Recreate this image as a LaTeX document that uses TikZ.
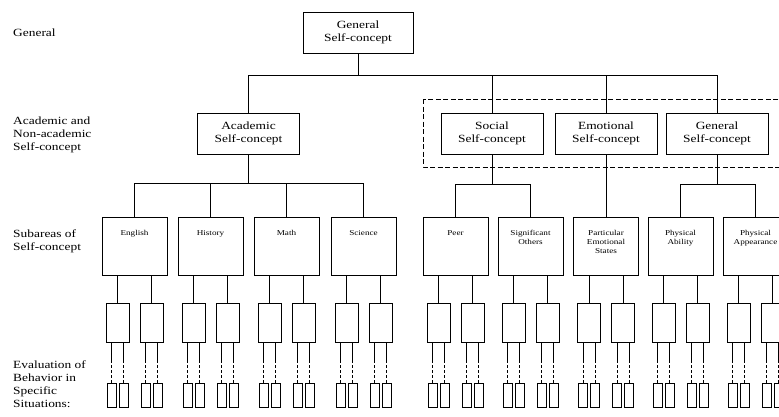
\documentclass[tikz,border=0pt]{standalone}
\usepackage{fontspec}
\setmainfont{Liberation Serif}[FakeStretch=1.22]
\usepackage{tikz}

\tikzset{
  box/.style={draw, line width=1pt, rectangle, inner sep=0pt},
  topbox/.style={box, minimum width=110pt, minimum height=41pt, align=center,
    font=\fontsize{11}{13}\selectfont},
  subbox/.style={box, minimum width=65pt, minimum height=58pt},
  subtxt/.style={anchor=north, yshift=-14pt, inner sep=0pt, align=center,
    font=\fontsize{7.5}{9}\selectfont},
  midbox/.style={box, minimum width=23pt, minimum height=39pt},
  tinybox/.style={box, minimum width=9pt, minimum height=24pt},
  lvl/.style={anchor=west, align=left, inner sep=0pt,
    font=\fontsize{11}{13}\selectfont},
  conn/.style={line width=1pt}
}

\begin{document}
\begin{tikzpicture}[x=1pt,y=-1pt]
\useasboundingbox (0,0) rectangle (779,416);

% level names on the left
\node[lvl] (l1) at (13,33) {General};
\node[lvl] (l2) at (13,135) {Academic and\\Non-academic\\Self-concept};
\node[lvl] (l3) at (13,241) {Subareas of\\Self-concept};
\node[lvl] (l4) at (13,384) {Evaluation of\\Behavior in\\Specific\\Situations:};

% general and second level
\node[topbox] (gen) at (358,32.5) {General\\Self-concept};
\node[topbox, minimum width=102pt] (aca) at (248.5,133.5) {Academic\\Self-concept};
\node[topbox, minimum width=102pt] (soc) at (492,133.5) {Social\\Self-concept};
\node[topbox, minimum width=102pt] (emo) at (606,133.5) {Emotional\\Self-concept};
\node[topbox, minimum width=102pt] (gsc) at (717,133.5) {General\\Self-concept};

% non-academic group
\draw[dash pattern=on 5pt off 2.5pt, line width=0.9pt] (423,99) rectangle (795,167);

\foreach \t in {aca,soc,emo,gsc}
  \draw[conn] (gen.south) -- ++(0,22) -| (\t.north);

% subareas
\foreach \n/\x/\txt in {eng/134.5/English, his/210.5/History, mat/286.5/Math,
    sci/363.5/Science, peer/455.5/Peer, sig/530.5/{Significant\\Others},
    pes/606/{Particular\\Emotional\\States}, pab/680.5/{Physical\\Ability},
    pap/755.5/{Physical\\Appearance}} {
  \node[subbox, label={[subtxt]north:\txt}] (\n) at (\x,246) {};
  \foreach \d/\s in {a/-17, b/17} {
    \node[midbox] (\n\d) at (\x+\s,322.5) {};
    \draw[conn] (\n\d.north) -- (\n\d.north |- \n.south);
    \foreach \e/\u in {1/-6, 2/6} {
      \node[tinybox] (\n\d\e) at (\x+\s+\u,395) {};
      \draw[conn, densely dashed] (\n\d\e.north) -- ++(0,-23) coordinate (\n\d\e m);
      \draw[conn] (\n\d\e m) -- (\n\d\e m |- \n\d.south);
    }
  }
}

\foreach \t in {eng,his,mat,sci}
  \draw[conn] (aca.south) -- ++(0,29) -| (\t.north);
\foreach \t in {peer,sig}
  \draw[conn] (soc.south) -- ++(0,30) -| (\t.north);
\draw[conn] (emo.south) -- (pes.north);
\foreach \t in {pab,pap}
  \draw[conn] (gsc.south) -- ++(0,30) -| (\t.north);
\end{tikzpicture}
\end{document}
